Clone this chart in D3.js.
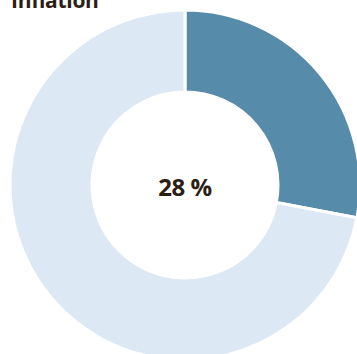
<!DOCTYPE html>
<html><head><meta charset="utf-8">
<script src="https://cdn.jsdelivr.net/npm/d3@7"></script>
<style>html,body{margin:0;padding:0;background:#fff;overflow:hidden}</style>
</head><body>
<svg id="c" width="357" height="354"></svg>
<script>
const title = "Inflation";
const categories = ["Inflation", "Rest"];
const values = [28, 72];
const centerLabel = "28 %";
const colors = ["#568ba9", "#dce8f4"];

const svg = d3.select("#c");
const cx = 185, cy = 185, R = 175, r = 93;
const pie = d3.pie().sort(null).value(d => d)(values);
const arc = d3.arc().innerRadius(r).outerRadius(R);
const g = svg.append("g").attr("transform", `translate(${cx},${cy})`);
g.selectAll("path").data(pie).join("path")
  .attr("d", arc)
  .attr("fill", (d, i) => colors[i])
  .attr("stroke", "#fff")
  .attr("stroke-width", 3);
g.append("text").attr("text-anchor", "middle").attr("y", 11)
  .attr("font-family", "Open Sans, sans-serif").attr("font-weight", 700)
  .attr("font-size", 24).attr("letter-spacing", -0.5).attr("fill", "#2b1e14").text(centerLabel);
svg.append("text").attr("x", 11).attr("y", 8)
  .attr("font-family", "Open Sans, sans-serif").attr("font-weight", 700)
  .attr("font-size", 21).attr("letter-spacing", -0.3).attr("fill", "#2b1e14").text(title);
</script>
</body></html>
